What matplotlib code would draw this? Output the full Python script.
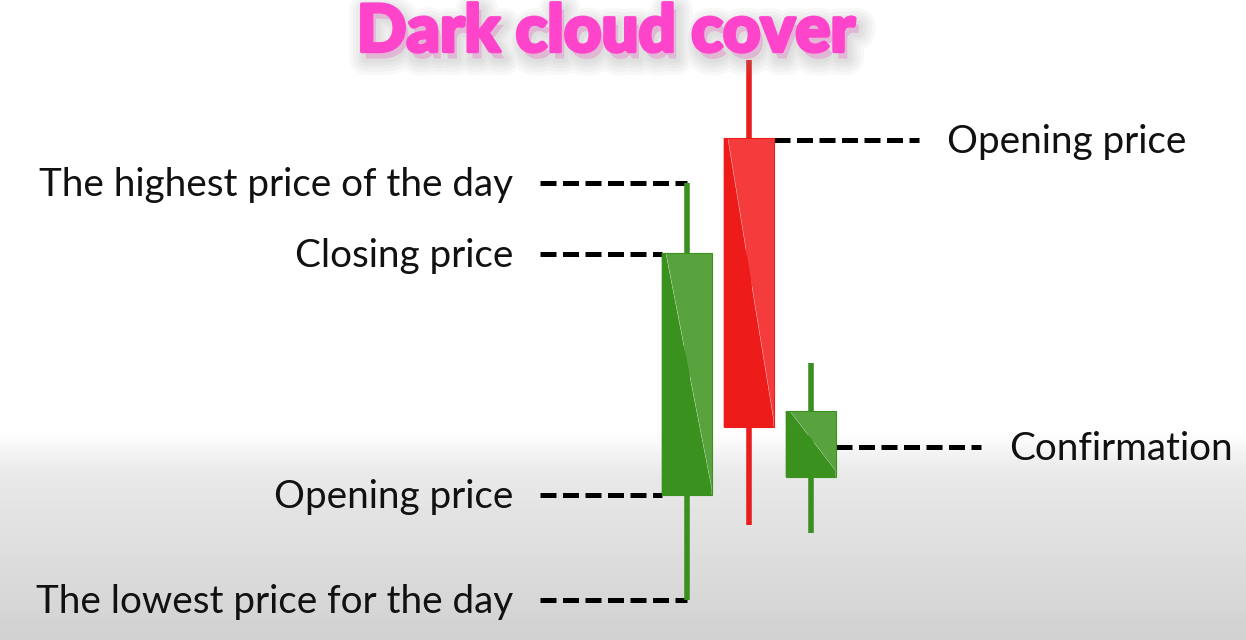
import matplotlib.pyplot as plt
import matplotlib.patheffects as pe
from matplotlib.patches import Polygon
import numpy as np

# candle data (price units, higher = up)
candles = ["green", "red", "green"]
opens = [145, 502, 163]
closes = [387, 213, 229]
highs = [457, 580, 277]
lows = [40, 115, 107]

# annotations
left_labels = ["The highest price of the day", "Closing price", "Opening price", "The lowest price for the day"]
left_prices = [457, 386, 145, 40]
left_to = ["wick", "body", "body", "wick"]
right_labels = ["Opening price", "Confirmation"]
right_prices = [500, 193]
right_from = [1, 2]

title = "Dark cloud cover"

colors = {
    "green": ("#3a911e", "#59a33f", "#3b8f22"),
    "red": ("#ee1b1b", "#f53c3c", "#e81d1d"),
}

W, H = 1246, 640
fig = plt.figure(figsize=(W / 100, H / 100), dpi=100)

# background gradient (white top, grey towards the bottom)
bg = fig.add_axes([0, 0, 1, 1])
yy = np.arange(H, dtype=float)
ramp = np.clip((yy - 425) / 55, 0, 1)
ramp = ramp * ramp * (3 - 2 * ramp)
lin = np.clip((yy - 425) / (H - 425), 0, 1)
shade = 1.0 - 0.06 * ramp - 0.12 * lin
bg.imshow(np.repeat(shade[:, None], 4, axis=1), cmap="gray", vmin=0, vmax=1,
          aspect="auto", extent=[0, 1, 0, 1], origin="upper")
bg.set_axis_off()

ax = fig.add_axes([0, 0, 1, 1], facecolor="none")
step = 62.0
x0 = 686.7
ax.set_xlim(-x0 / step, (W - x0) / step)
ax.set_ylim(0, H)
ax.set_axis_off()

body_w = 50 / step
wick_lw = 4.0

for i, (c, o, cl, hi, lo) in enumerate(zip(candles, opens, closes, highs, lows)):
    dark, light, wick = colors[c]
    ax.plot([i, i], [lo, hi], color=wick, lw=wick_lw, solid_capstyle="butt", zorder=2)
    top, bot = max(o, cl), min(o, cl)
    l, r = i - body_w / 2, i + body_w / 2
    d = 0.08 * body_w
    ax.add_patch(Polygon([(l, top), (l, bot), (r, bot), (r, bot + 6), (l + d, top)],
                         closed=True, fc=dark, ec="none", zorder=3))
    ax.add_patch(Polygon([(l + d, top), (r, top), (r, bot + 6)], closed=True, fc=light, ec="none", zorder=3))
    ax.add_patch(plt.Rectangle((l, bot), body_w, top - bot, fc="none", ec=dark, lw=0.8, zorder=4))

dash = dict(color="black", lw=3.6, linestyle=(0, (3.2, 1.3)), solid_capstyle="butt",
            dash_capstyle="butt", zorder=1)
font = ["Lato", "DejaVu Sans"]
lx_start = (540 - x0) / step
label_x = (513 - x0) / step
for lab, p, t in zip(left_labels, left_prices, left_to):
    xend = 0 if t == "wick" else -body_w / 2
    ax.plot([lx_start, xend], [p, p], **dash)
    ax.text(label_x, p - 2, lab, ha="right", va="center", fontsize=27.8,
            family=font, color="#111111")

for lab, p, i in zip(right_labels, right_prices, right_from):
    xs = i + body_w / 2
    xe = xs + 145 / step
    ax.plot([xs, xe], [p, p], **dash)
    ax.text(xe + 28 / step, p - 2, lab, ha="left", va="center", fontsize=27.8,
            family=font, color="#111111")

glow = [pe.withStroke(linewidth=w, foreground="#8c8c8c", alpha=0.06, offset=(3, -5))
        for w in (24, 19, 14, 10, 6)]
fig.text(606 / W, 1 - 33 / H, title, ha="center", va="center", fontsize=47,
         fontweight="black", family=font, color="#ff44cc",
         path_effects=glow + [pe.withStroke(linewidth=2.5, foreground="#ff44cc")])

fig.savefig("out.png", dpi=100)
